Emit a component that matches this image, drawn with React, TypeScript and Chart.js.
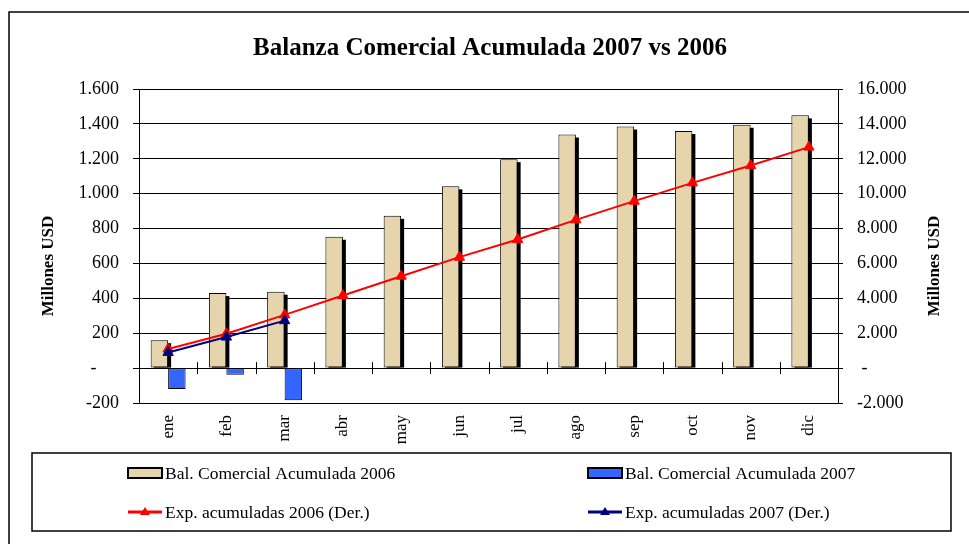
import React, { useEffect, useRef } from "react";
import { Chart, registerables } from "chart.js";

Chart.register(...registerables);

const months = ["ene", "feb", "mar", "abr", "may", "jun", "jul", "ago", "sep", "oct", "nov", "dic"];
const bal2006 = [160, 430, 438, 753, 873, 1042, 1198, 1339, 1385, 1359, 1395, 1449];
const bal2007 = [-120, -38, -184, null, null, null, null, null, null, null, null, null];
const exp2006 = [1100, 1970, 3050, 4160, 5270, 6360, 7370, 8500, 9570, 10620, 11610, 12670];
const exp2007 = [900, 1780, 2720, null, null, null, null, null, null, null, null, null];

const leftTicks = { min: -200, max: 1600, step: 200 };
const rightTicks = { min: -2000, max: 16000, step: 2000 };

const TITLE = "Balanza Comercial Acumulada 2007 vs 2006";
const AXIS_TITLE = "Millones USD";
const SERIF = "'Liberation Serif', 'Times New Roman', serif";

const BEIGE = "#e6d4ac";
const BLUE = "#3366ff";
const RED = "#ff0000";
const NAVY = "#000080";

function fmt(v: number, zeroLabel: string): string {
  if (v === 0) return zeroLabel;
  const s = Math.abs(v).toFixed(0).replace(/\B(?=(\d{3})+(?!\d))/g, ".");
  return (v < 0 ? "-" : "") + s;
}

const decorPlugin = {
  id: "decor",
  beforeDatasetsDraw(chart: any) {
    const ctx = chart.ctx;
    const xs = chart.scales.x;
    const ys = chart.scales.y;
    const y0 = ys.getPixelForValue(0);
    ctx.save();
    ctx.strokeStyle = "#000";
    ctx.lineWidth = 1;
    for (let i = 1; i < months.length; i++) {
      const x = Math.round((xs.getPixelForValue(i - 1) + xs.getPixelForValue(i)) / 2) + 0.5;
      ctx.beginPath();
      ctx.moveTo(x, y0 - 6);
      ctx.lineTo(x, y0 + 6);
      ctx.stroke();
    }
    ctx.restore();
  },
  beforeDatasetDraw(chart: any, args: any) {
    if (args.index === 0) {
      const ctx = chart.ctx;
      const meta = chart.getDatasetMeta(0);
      ctx.save();
      ctx.fillStyle = "#000";
      meta.data.forEach((el: any) => {
        const p = el.getProps(["x", "y", "base", "width"], true);
        const top = Math.min(p.y, p.base) + 3;
        const bottom = Math.max(p.y, p.base);
        if (bottom > top) ctx.fillRect(p.x - p.width / 2 + 3, top, p.width, bottom - top);
      });
      ctx.restore();
    }
  },
  afterDraw(chart: any) {
    const ctx = chart.ctx;
    const a = chart.chartArea;
    ctx.save();
    // outer frame
    ctx.strokeStyle = "#000";
    ctx.lineWidth = 1.5;
    ctx.strokeRect(9, 12, 2000, 2000);

    // title
    ctx.fillStyle = "#000";
    ctx.font = `bold 25px ${SERIF}`;
    ctx.textAlign = "center";
    ctx.textBaseline = "alphabetic";
    ctx.fillText(TITLE, 490, 55);

    // axis titles (both reading bottom-to-top)
    ctx.font = `bold 17px ${SERIF}`;
    ctx.textBaseline = "middle";
    const cy = (a.top + a.bottom) / 2 + 20;
    [a.left - 90, a.right + 97].forEach((x) => {
      ctx.save();
      ctx.translate(x, cy);
      ctx.rotate(-Math.PI / 2);
      ctx.fillText(AXIS_TITLE, 0, 0);
      ctx.restore();
    });

    // legend box
    ctx.lineWidth = 1.5;
    ctx.strokeRect(32, 453, 919, 78);
    const cols = [128, 588];
    const rows = [473, 512];
    ctx.font = `17.5px ${SERIF}`;
    ctx.textAlign = "left";
    chart.data.datasets.forEach((ds: any, i: number) => {
      const x = cols[i % 2];
      const y = rows[Math.floor(i / 2)];
      if (ds.type === "line") {
        ctx.strokeStyle = ds.borderColor;
        ctx.lineWidth = 3;
        ctx.beginPath();
        ctx.moveTo(x, y);
        ctx.lineTo(x + 34, y);
        ctx.stroke();
        ctx.fillStyle = ds.borderColor;
        ctx.beginPath();
        ctx.moveTo(x + 17, y - 5);
        ctx.lineTo(x + 22, y + 3);
        ctx.lineTo(x + 12, y + 3);
        ctx.closePath();
        ctx.fill();
      } else {
        ctx.fillStyle = ds.backgroundColor;
        ctx.fillRect(x, y - 5, 34, 10);
        ctx.strokeStyle = "#000";
        ctx.lineWidth = 2;
        ctx.strokeRect(x, y - 5, 34, 10);
      }
      ctx.fillStyle = "#000";
      ctx.fillText(ds.label, x + 37, y + 1);
    });
    ctx.restore();
  },
};

export default function App() {
  const ref = useRef<HTMLCanvasElement | null>(null);

  useEffect(() => {
    document.body.style.margin = "0";
    const canvas = ref.current;
    if (!canvas) return;
    const tickFont = { family: SERIF, size: 18 };
    const chart = new Chart(canvas, {
      type: "bar",
      data: {
        labels: months,
        datasets: [
          {
            type: "bar",
            label: "Bal. Comercial Acumulada 2006",
            data: bal2006,
            backgroundColor: BEIGE,
            borderColor: "#000",
            borderWidth: 1,
            borderSkipped: false,
            categoryPercentage: 0.6,
            barPercentage: 1.0,
            yAxisID: "y",
            order: 2,
          },
          {
            type: "bar",
            label: "Bal. Comercial Acumulada 2007",
            data: bal2007,
            backgroundColor: BLUE,
            borderColor: "#000",
            borderWidth: 1,
            borderSkipped: false,
            categoryPercentage: 0.6,
            barPercentage: 1.0,
            yAxisID: "y",
            order: 2,
          },
          {
            type: "line",
            label: "Exp. acumuladas 2006 (Der.)",
            data: exp2006,
            borderColor: RED,
            backgroundColor: RED,
            borderWidth: 2,
            pointStyle: "triangle",
            pointRadius: 6,
            pointBorderWidth: 1,
            yAxisID: "y1",
            order: 1,
          },
          {
            type: "line",
            label: "Exp. acumuladas 2007 (Der.)",
            data: exp2007,
            borderColor: NAVY,
            backgroundColor: NAVY,
            borderWidth: 2,
            pointStyle: "triangle",
            pointRadius: 6,
            pointBorderWidth: 1,
            yAxisID: "y1",
            order: 0,
          },
        ] as any,
      },
      options: {
        responsive: false,
        animation: false,
        layout: { padding: { top: 89, left: 0, right: 0, bottom: 0 } },
        plugins: {
          legend: { display: false },
          title: { display: false },
          tooltip: { enabled: false },
        },
        scales: {
          x: {
            grid: { display: false, drawTicks: false },
            border: { display: false },
            ticks: {
              autoSkip: false,
              minRotation: 90,
              maxRotation: 90,
              padding: 12,
              color: "#000",
              font: { family: SERIF, size: 17 },
            },
            afterFit: (s: any) => {
              s.height = 141;
            },
          },
          y: {
            position: "left",
            min: leftTicks.min,
            max: leftTicks.max,
            ticks: {
              stepSize: leftTicks.step,
              padding: 14,
              color: "#000",
              font: tickFont,
              callback: (v: any) => fmt(Number(v), "-     "),
            },
            grid: { color: "#000", lineWidth: 1, drawTicks: true, tickLength: 6, tickColor: "#000" },
            border: { display: true, color: "#000", width: 1 },
            afterFit: (s: any) => {
              s.width = 139;
            },
          },
          y1: {
            position: "right",
            min: rightTicks.min,
            max: rightTicks.max,
            ticks: {
              stepSize: rightTicks.step,
              padding: 14,
              color: "#000",
              font: tickFont,
              callback: (v: any) => fmt(Number(v), " -"),
            },
            grid: { drawOnChartArea: false, drawTicks: true, tickLength: 5, tickColor: "#000" },
            border: { display: true, color: "#000", width: 1 },
            afterFit: (s: any) => {
              s.width = 131;
            },
          },
        },
      } as any,
      plugins: [decorPlugin],
    });
    return () => chart.destroy();
  }, []);

  return (
    <div style={{ width: 969, height: 544, background: "#fff" }}>
      <canvas ref={ref} width={969} height={544} style={{ display: "block" }} />
    </div>
  );
}
